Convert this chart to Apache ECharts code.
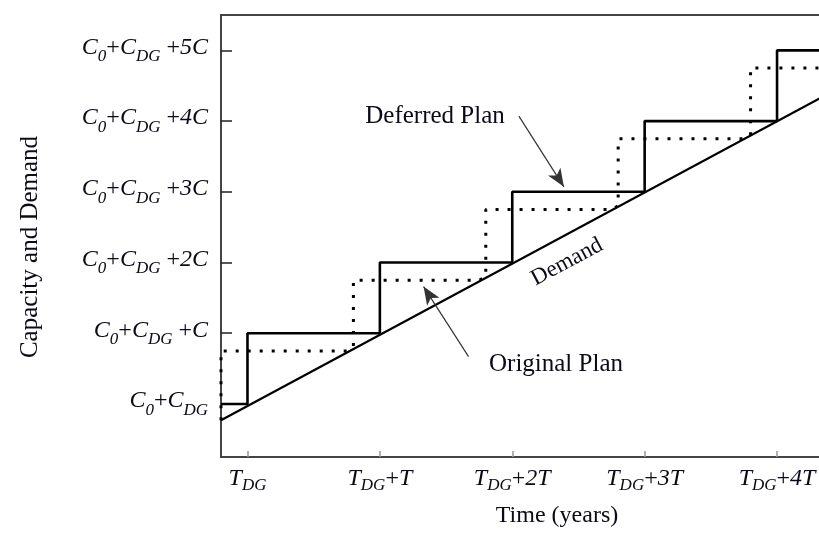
<!DOCTYPE html>
<html><head><meta charset="utf-8">
<script src="https://cdn.jsdelivr.net/npm/echarts@6/dist/echarts.min.js"></script>
<style>html,body{margin:0;padding:0;background:#fff}#c{width:819px;height:539px}</style>
</head><body><div id="c"></div>
<script>
// ---- data ----
const yTickValues = [0, 1, 2, 3, 4, 5];
const yTickSuffix = ['', 'C', '2C', '3C', '4C', '5C'];
const xTickValues = [0, 1, 2, 3, 4];
const xTickSuffix = ['', 'T', '2T', '3T', '4T'];
const demand = [[-0.2, -0.23], [4.4, 4.4]];
const deferredPlan = [[-0.2, 0], [0, 0], [0, 1], [1, 1], [1, 2], [2, 2], [2, 3], [3, 3], [3, 4], [4, 4], [4, 5], [4.4, 5]];
const originalPlan = [[-0.2, -0.23], [-0.2, 0.75], [0.75, 0.75], [0.8, 0.8], [0.8, 1.75], [1.75, 1.75], [1.8, 1.8], [1.8, 2.75], [2.75, 2.75], [2.8, 2.8], [2.8, 3.75], [3.75, 3.75], [3.8, 3.8], [3.8, 4.75], [4.4, 4.75]];
const deferredArrow = [[2.05, 4.07], [2.39, 3.07]];
const originalArrow = [[1.67, 0.67], [1.33, 1.66]];

// ---- styles ----
const serif = '"Liberation Serif", "Times New Roman", serif';
const txt = '#0a0a18';
const chart = echarts.init(document.getElementById('c'));
chart.setOption({
  animation: false,
  grid: { left: 221, top: 15, bottom: 82, right: -11, show: true, borderColor: '#444', borderWidth: 2, outerBoundsMode: 'none', containLabel: false },
  xAxis: {
    type: 'value', min: -0.2, max: 4.4,
    splitLine: { show: false },
    axisLine: { show: true, onZero: false, lineStyle: { color: '#444', width: 2 } },
    axisTick: { show: true, inside: true, length: 6, customValues: xTickValues, lineStyle: { color: '#999', width: 1.5 } },
    axisLabel: {
      customValues: xTickValues, margin: 7, color: txt,
      formatter: function (v) {
        const i = xTickValues.indexOf(v);
        const suf = xTickSuffix[i];
        return '{m|T}{sd|DG}' + (suf ? '{p|+}{m|' + suf + '}' : '');
      },
      rich: {
        m: { fontFamily: serif, fontStyle: 'italic', fontSize: 24, lineHeight: 30, color: txt },
        p: { fontFamily: serif, fontSize: 24, lineHeight: 30, color: txt },
        sd: { fontFamily: serif, fontStyle: 'italic', fontSize: 17, lineHeight: 11, verticalAlign: 'bottom', color: txt }
      }
    }
  },
  yAxis: {
    type: 'value', min: -0.75, max: 5.5,
    splitLine: { show: false },
    axisLine: { show: true, onZero: false, lineStyle: { color: '#444', width: 2 } },
    axisTick: { show: true, inside: true, length: 11, customValues: yTickValues, lineStyle: { color: '#222', width: 1.5 } },
    axisLabel: {
      customValues: yTickValues, margin: 13, color: txt,
      formatter: function (v) {
        const i = yTickValues.indexOf(v);
        const suf = yTickSuffix[i];
        return '{m|C}{s0|0}{p|+}{m|C}{sd|DG}' + (suf ? '{p| +}{m|' + suf + '}' : '');
      },
      rich: {
        m: { fontFamily: serif, fontStyle: 'italic', fontSize: 24, lineHeight: 22, verticalAlign: 'top', color: txt },
        p: { fontFamily: serif, fontSize: 24, lineHeight: 22, verticalAlign: 'top', color: txt },
        s0: { fontFamily: serif, fontStyle: 'italic', fontSize: 17, lineHeight: 30, verticalAlign: 'bottom', color: txt },
        sd: { fontFamily: serif, fontStyle: 'italic', fontSize: 17, lineHeight: 22, verticalAlign: 'bottom', color: txt }
      }
    }
  },
  series: [
    { type: 'line', name: 'Original Plan', data: originalPlan, showSymbol: false, silent: true,
      lineStyle: { color: '#000', width: 3, type: [3, 9], cap: 'butt' }, z: 2 },
    { type: 'line', name: 'Demand', data: demand, showSymbol: false, silent: true,
      lineStyle: { color: '#000', width: 2.2 }, z: 3 },
    { type: 'line', name: 'Deferred Plan', data: deferredPlan, showSymbol: false, silent: true,
      lineStyle: { color: '#000', width: 2.6 }, z: 4,
      markLine: {
        silent: true, animation: false,
        label: { show: false },
        lineStyle: { color: '#333', width: 1.2, type: 'solid' },
        data: [
          [{ coord: deferredArrow[0], symbol: 'none' }, { coord: deferredArrow[1], symbol: 'arrow', symbolSize: [11, 18] }],
          [{ coord: originalArrow[0], symbol: 'none' }, { coord: originalArrow[1], symbol: 'arrow', symbolSize: [11, 18] }]
        ],
        itemStyle: { color: '#000' }
      } }
  ],
  graphic: [
    { type: 'text', x: 30, y: 247, rotation: Math.PI / 2, style: { text: 'Capacity and Demand', font: '25px ' + serif, fill: txt, align: 'center', verticalAlign: 'middle' } },
    { type: 'text', x: 557, y: 516, style: { text: 'Time (years)', font: '24px ' + serif, fill: txt, align: 'center', verticalAlign: 'middle' } },
    { type: 'text', x: 435, y: 116, style: { text: 'Deferred Plan', font: '25px ' + serif, fill: txt, align: 'center', verticalAlign: 'middle' } },
    { type: 'text', x: 556, y: 364, style: { text: 'Original Plan', font: '25px ' + serif, fill: txt, align: 'center', verticalAlign: 'middle' } },
    { type: 'text', x: 567, y: 262, rotation: 0.49, style: { text: 'Demand', font: '23px ' + serif, fill: txt, align: 'center', verticalAlign: 'middle' } }
  ]
});
</script></body></html>
